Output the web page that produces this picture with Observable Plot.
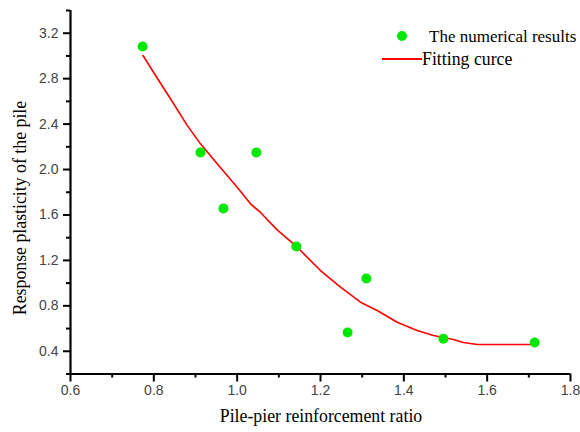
<!DOCTYPE html>
<html>
<head>
<meta charset="utf-8">
<script src="https://cdn.jsdelivr.net/npm/d3@7"></script>
<script src="https://cdn.jsdelivr.net/npm/@observablehq/plot@0.6"></script>
<style>
  html, body { margin: 0; padding: 0; background: #fff; }
  #wrap { position: relative; width: 580px; height: 432px; overflow: hidden; }
  .t { position: absolute; font-family: "Liberation Serif", "Times New Roman", serif; font-size: 17.8px; line-height: 20px; color: #000; white-space: nowrap; }
</style>
</head>
<body>
<div id="wrap"></div>
<script>
// Data
const ratio = [0.773, 0.912, 0.967, 1.046, 1.142, 1.265, 1.31, 1.495, 1.714];
const plasticity = [3.083, 2.15, 1.657, 2.15, 1.322, 0.565, 1.04, 0.51, 0.477];

const fitX = [0.774, 0.804, 0.84, 0.88, 0.912, 0.952, 1.0, 1.032, 1.056, 1.096, 1.14, 1.2, 1.248, 1.296, 1.336, 1.384, 1.432, 1.471, 1.519, 1.543, 1.576, 1.64, 1.704, 1.714];
const fitY = [3.004, 2.828, 2.623, 2.389, 2.226, 2.05, 1.844, 1.698, 1.622, 1.469, 1.331, 1.111, 0.964, 0.832, 0.759, 0.656, 0.583, 0.539, 0.504, 0.477, 0.46, 0.46, 0.46, 0.486];

const xMajor = [0.6, 0.8, 1.0, 1.2, 1.4, 1.6, 1.8];
const xMinor = [0.7, 0.9, 1.1, 1.3, 1.5, 1.7];
const yMajor = [0.4, 0.8, 1.2, 1.6, 2.0, 2.4, 2.8, 3.2];
const yMinor = [0.2, 0.6, 1.0, 1.4, 1.8, 2.2, 2.6, 3.0, 3.4];

const xTitle = "Pile-pier reinforcement ratio";
const yTitle = "Response plasticity of the pile";
const legendPoints = "The numerical results";
const legendLine = "Fitting curce";

const points = ratio.map((x, i) => ({x, y: plasticity[i]}));
const fit = fitX.map((x, i) => ({x, y: fitY[i]}));

const chart = Plot.plot({
  width: 580,
  height: 432,
  marginLeft: 70,
  marginRight: 10,
  marginTop: 10,
  marginBottom: 58.5,
  style: { fontFamily: "'Liberation Sans', Arial, sans-serif", background: "#fff" },
  x: { domain: [0.6, 1.8] },
  y: { domain: [0.2, 3.4] },
  marks: [
    Plot.axisX({ ticks: xMajor, tickSize: 8, tickPadding: 3, tickFormat: d3.format(".1f"), fontSize: 14, fill: "#444", stroke: "#000", strokeWidth: 2, label: null }),
    Plot.axisX({ ticks: xMinor, tickSize: 4, tickFormat: null, text: null, stroke: "#000", strokeWidth: 2, label: null }),
    Plot.axisY({ ticks: yMajor, tickSize: 7, tickPadding: 5, tickFormat: d3.format(".1f"), fontSize: 14, fill: "#444", stroke: "#000", strokeWidth: 2, label: null }),
    Plot.axisY({ ticks: yMinor, tickSize: 4, tickFormat: null, text: null, stroke: "#000", strokeWidth: 2, label: null }),
    Plot.ruleY([0.2], { stroke: "#000", strokeWidth: 2.2 }),
    Plot.ruleX([0.6], { stroke: "#000", strokeWidth: 2.2 }),
    Plot.line(fit, { x: "x", y: "y", stroke: "#ff0000", strokeWidth: 1.6 }),
    Plot.dot(points, { x: "x", y: "y", r: 5, fill: "#00e800", stroke: "none" })
  ]
});

const wrap = document.getElementById("wrap");
wrap.appendChild(chart);

function addText(txt, css) {
  const d = document.createElement("div");
  d.className = "t";
  d.textContent = txt;
  Object.assign(d.style, css);
  wrap.appendChild(d);
  return d;
}

// axis titles
addText(xTitle, { left: "321px", top: "406px", transform: "translateX(-50%)" });
addText(yTitle, { left: "20px", top: "208px", transform: "translate(-50%,-50%) rotate(-90deg)" });

// legend
const dot = document.createElement("div");
Object.assign(dot.style, { position: "absolute", left: "397px", top: "31px", width: "10px", height: "10px", borderRadius: "50%", background: "#00e800" });
wrap.appendChild(dot);
addText(legendPoints, { left: "429px", top: "26.5px", fontSize: "17px" });
const ln = document.createElement("div");
Object.assign(ln.style, { position: "absolute", left: "382px", top: "57.5px", width: "40px", height: "2px", background: "#ff0000" });
wrap.appendChild(ln);
addText(legendLine, { left: "422px", top: "48.5px" });
</script>
</body>
</html>
